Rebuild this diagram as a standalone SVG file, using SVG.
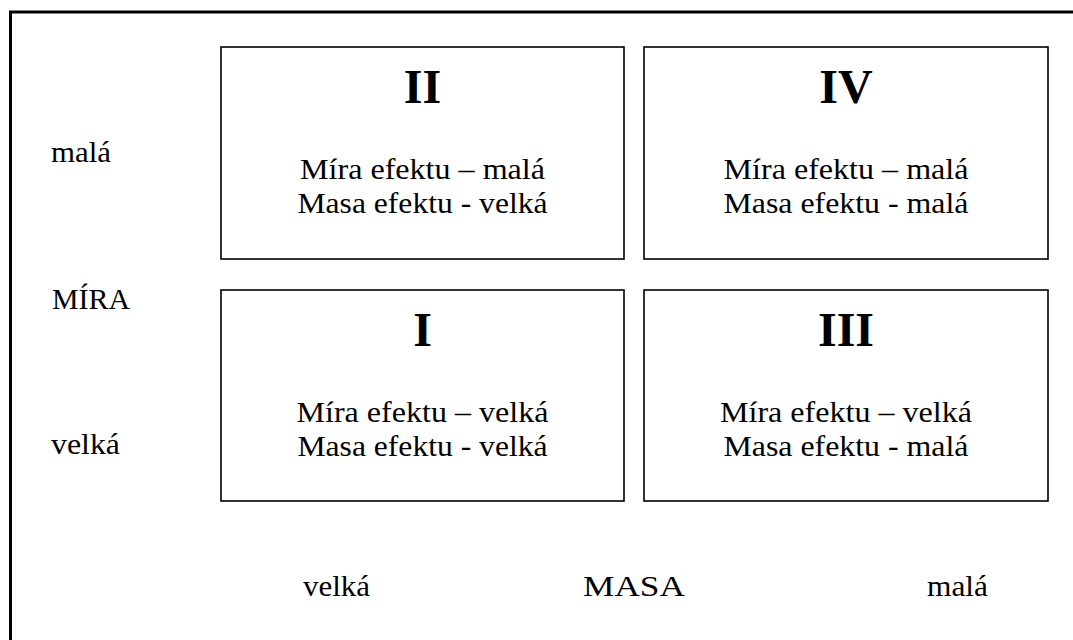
<svg xmlns="http://www.w3.org/2000/svg" width="1073" height="640" viewBox="0 0 1073 640">
<style>
.box{fill:#fff;stroke:#000;stroke-width:1.6}
.num{font-family:"Liberation Serif","Times New Roman",serif;font-weight:bold;font-size:48px;text-anchor:middle;fill:#000}
.t{font-family:"Liberation Serif","Times New Roman",serif;font-size:29px;fill:#000}
.c{text-anchor:middle}
</style>
<rect width="1073" height="640" fill="#fff"/>
<path d="M10.5,640 V12 H1073" fill="none" stroke="#000" stroke-width="3"/>
<g id="axis-labels">
<text class="t" x="51" y="162" textLength="60" lengthAdjust="spacingAndGlyphs">malá</text>
<text class="t" x="52" y="309" textLength="78" lengthAdjust="spacingAndGlyphs">MÍRA</text>
<text class="t" x="51" y="454" textLength="69" lengthAdjust="spacingAndGlyphs">velká</text>
<text class="t" x="303" y="596" textLength="67" lengthAdjust="spacingAndGlyphs">velká</text>
<text class="t" x="583" y="596" textLength="102" lengthAdjust="spacingAndGlyphs">MASA</text>
<text class="t" x="927" y="596" textLength="61" lengthAdjust="spacingAndGlyphs">malá</text>
</g>
<g id="box-II">
<rect class="box" x="221" y="47" width="403" height="212"/>
<text class="num" x="422.5" y="103">II</text>
<text class="t c" x="422.5" y="179" textLength="245" lengthAdjust="spacingAndGlyphs">Míra efektu – malá</text>
<text class="t c" x="422.5" y="213" textLength="250" lengthAdjust="spacingAndGlyphs">Masa efektu - velká</text>
</g>
<g id="box-IV">
<rect class="box" x="644" y="47" width="404" height="212"/>
<text class="num" x="846" y="103">IV</text>
<text class="t c" x="846" y="179" textLength="245" lengthAdjust="spacingAndGlyphs">Míra efektu – malá</text>
<text class="t c" x="846" y="213" textLength="245" lengthAdjust="spacingAndGlyphs">Masa efektu - malá</text>
</g>
<g id="box-I">
<rect class="box" x="221" y="290" width="403" height="211"/>
<text class="num" x="422.5" y="346">I</text>
<text class="t c" x="422.5" y="422" textLength="252" lengthAdjust="spacingAndGlyphs">Míra efektu – velká</text>
<text class="t c" x="422.5" y="456" textLength="250" lengthAdjust="spacingAndGlyphs">Masa efektu - velká</text>
</g>
<g id="box-III">
<rect class="box" x="644" y="290" width="404" height="211"/>
<text class="num" x="846" y="346">III</text>
<text class="t c" x="846" y="422" textLength="252" lengthAdjust="spacingAndGlyphs">Míra efektu – velká</text>
<text class="t c" x="846" y="456" textLength="245" lengthAdjust="spacingAndGlyphs">Masa efektu - malá</text>
</g>
<g id="connectors"></g>
</svg>
